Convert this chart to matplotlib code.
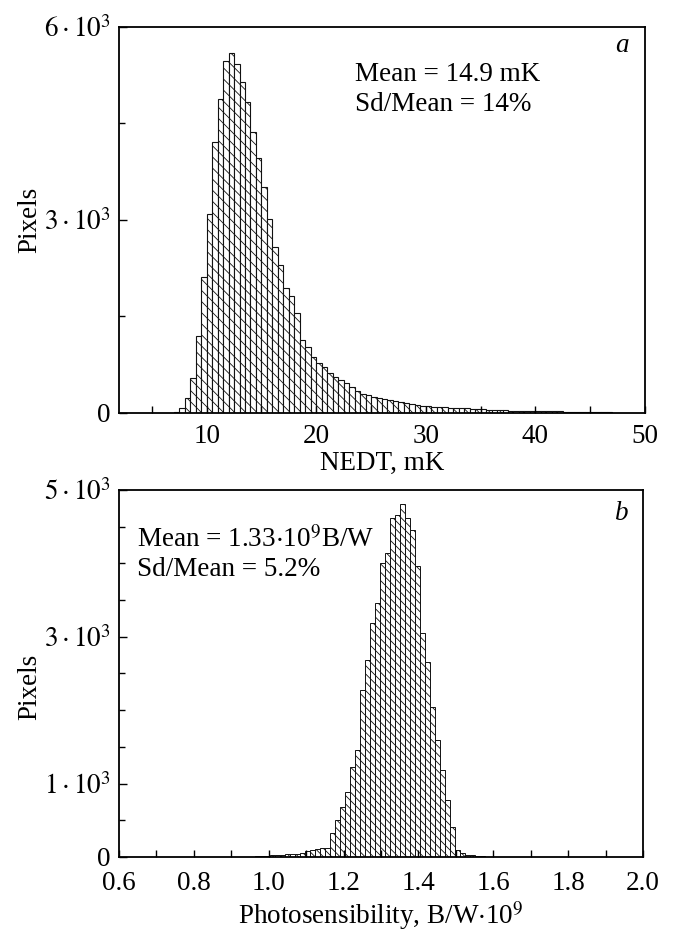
import numpy as np
import matplotlib.pyplot as plt
from matplotlib.ticker import MultipleLocator, FixedLocator, FixedFormatter

plt.rcParams['font.family'] = ['Liberation Serif', 'DejaVu Serif']
plt.rcParams['mathtext.fontset'] = 'stix'
plt.rcParams['hatch.linewidth'] = 0.6

# (a) NEDT histogram, 0.5 mK bins starting at 7 mK
nedt_start = 7.0
nedt_width = 0.5
nedt_counts = [20, 73, 228, 539, 1197, 2119, 3088, 4208, 4876, 5476,
               5601, 5420, 5150, 4839, 4373, 3959, 3518, 3010, 2585, 2300,
               1948, 1819, 1549, 1135, 1021, 876, 782, 720, 617, 565,
               513, 461, 400, 340, 300, 275, 255, 235, 215, 195,
               180, 165, 150, 138, 126, 115, 108, 100, 95, 88,
               82, 78, 74, 70, 66, 62, 56, 50, 45, 42,
               40, 38, 36, 34, 32, 30, 28, 27, 26, 25,
               24, 23, 22, 21, 21, 20, 20, 19, 18, 16]

# (b) photosensibility histogram
phot_start = 0.9624
phot_width = 0.01338
phot_counts = [8, 10, 12, 20, 25, 30, 35, 40, 45, 60,
               80, 95, 110, 120, 122, 327, 504, 681, 885, 1226,
               1457, 2275, 2684, 3188, 3460, 4005, 4141, 4618, 4659, 4809,
               4618, 4455, 3965, 3052, 2657, 2044, 1594, 1185, 777, 409,
               95, 50, 30, 20, 12, 8, 5]

fig = plt.figure(figsize=(6.73, 9.44), dpi=100)
ax1 = fig.add_axes([0.1768, 0.5625, 0.7816, 0.4089])
ax2 = fig.add_axes([0.1768, 0.0922, 0.7786, 0.3888])

fs = 19.5

x1 = nedt_start + nedt_width * np.arange(len(nedt_counts))
ax1.bar(x1, nedt_counts, width=nedt_width, align='edge', color='white',
        edgecolor='#111111', linewidth=0.8, hatch='\\\\\\')
ax1.set_xlim(2, 50)
ax1.set_ylim(0, 6000)
ax1.xaxis.set_major_locator(FixedLocator([10, 20, 30, 40, 50]))
ax1.xaxis.set_minor_locator(FixedLocator([5, 15, 25, 35, 45]))
ax1.yaxis.set_major_locator(FixedLocator([0, 3000, 6000]))
ax1.yaxis.set_major_formatter(FixedFormatter(['0', r'$3\cdot10^3$', r'$6\cdot10^3$']))
ax1.yaxis.set_minor_locator(FixedLocator([1500, 4500]))
ax1.set_xlabel('NEDT, mK', fontsize=fs)
ax1.set_ylabel('Pixels', fontsize=fs)
ax1.xaxis.set_label_coords(0.5, -0.098)
ax1.yaxis.set_label_coords(-0.146, 0.5)
ax1.text(0.449, 0.878, 'Mean = 14.9 mK', transform=ax1.transAxes,
         fontsize=fs, va='center', ha='left')
ax1.text(0.449, 0.80, 'Sd/Mean = 14%', transform=ax1.transAxes,
         fontsize=fs, va='center', ha='left')
ax1.text(0.956, 0.953, 'a', transform=ax1.transAxes, fontsize=fs,
         style='italic', va='center', ha='center')

x2 = phot_start + phot_width * np.arange(len(phot_counts))
ax2.bar(x2, phot_counts, width=phot_width, align='edge', color='white',
        edgecolor='#111111', linewidth=0.7, hatch='\\\\\\\\')
ax2.set_xlim(0.6, 2.0)
ax2.set_ylim(0, 5000)
ax2.xaxis.set_major_locator(MultipleLocator(0.2))
ax2.xaxis.set_minor_locator(MultipleLocator(0.1))
ax2.xaxis.set_major_formatter(lambda v, p: f'{v:.1f}')
ax2.yaxis.set_major_locator(FixedLocator([0, 1000, 3000, 5000]))
ax2.yaxis.set_major_formatter(FixedFormatter(['0', r'$1\cdot10^3$', r'$3\cdot10^3$', r'$5\cdot10^3$']))
ax2.yaxis.set_minor_locator(MultipleLocator(500))
ax2.set_xlabel(r'Photosensibility, B/W$\cdot$10$^9$', fontsize=fs)
ax2.set_ylabel('Pixels', fontsize=fs)
ax2.xaxis.set_label_coords(0.5, -0.115)
ax2.yaxis.set_label_coords(-0.146, 0.463)
ax2.text(0.034, 0.864, r'Mean = 1.33$\cdot$10$^9$B/W', transform=ax2.transAxes,
         fontsize=fs, va='center', ha='left')
ax2.text(0.034, 0.782, 'Sd/Mean = 5.2%', transform=ax2.transAxes,
         fontsize=fs, va='center', ha='left')
ax2.text(0.96, 0.937, 'b', transform=ax2.transAxes, fontsize=fs,
         style='italic', va='center', ha='center')

for ax in (ax1, ax2):
    for s in ax.spines.values():
        s.set_linewidth(1.3)
    ax.tick_params(which='both', direction='in', labelsize=fs, width=1.0)
    ax.tick_params(axis='y', which='major', length=6, pad=6)
    ax.tick_params(axis='y', which='minor', length=4.5)
    ax.tick_params(axis='x', which='major', length=5, pad=8)
    ax.tick_params(axis='x', which='minor', length=5)

# keep the bottom "0" clear of the "0.6" below it
ax2.tick_params(axis='x', which='major', pad=10)
ax2.get_yticklabels()[0].set_y(60)

fig.savefig('out.png', dpi=100)
